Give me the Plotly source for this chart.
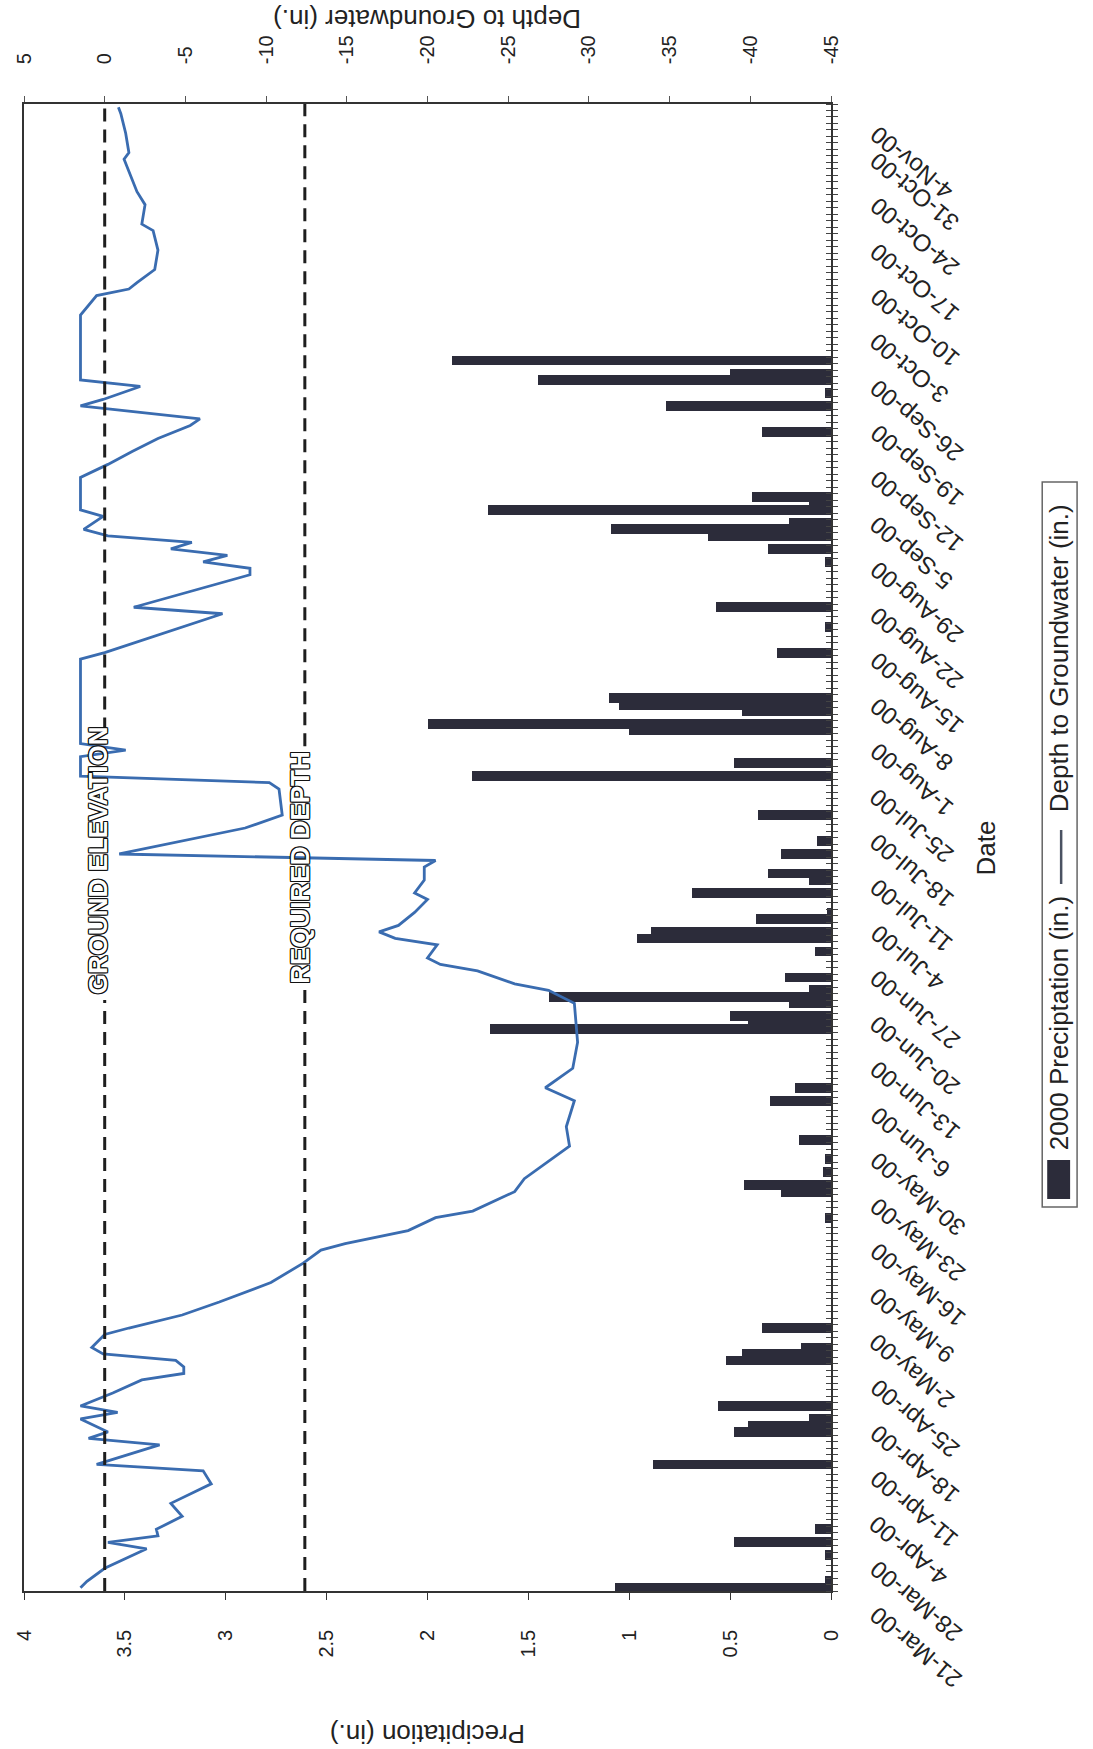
import pandas as pd
import plotly.graph_objects as go

START = pd.Timestamp("2000-03-21")
END = pd.Timestamp("2000-11-04")
DAY_MS = 86400000

# Daily precipitation (in.), day index counted from 21-Mar-2000
rain_day = [0, 1, 5, 7, 9, 19, 24, 25, 26, 28, 35, 36, 37, 40, 57, 61, 62, 64, 66, 69,
            75, 77, 86, 87, 88, 90, 91, 92, 94, 98, 100, 101, 103, 104, 107, 109, 110,
            113, 115, 119, 125, 127, 132, 133, 135, 136, 137, 144, 148, 151, 158, 160,
            162, 163, 164, 166, 167, 168, 178, 182, 184, 186, 187, 189]
rain_in = [1.07, 0.03, 0.03, 0.48, 0.08, 0.88, 0.48, 0.41, 0.11, 0.56, 0.52, 0.44, 0.15,
           0.34, 0.03, 0.25, 0.43, 0.04, 0.03, 0.16, 0.30, 0.18, 1.69, 0.41, 0.50, 0.21,
           1.40, 0.11, 0.23, 0.08, 0.96, 0.89, 0.37, 0.02, 0.69, 0.11, 0.31, 0.25, 0.07,
           0.36, 1.78, 0.48, 1.00, 2.00, 0.44, 1.05, 1.10, 0.27, 0.03, 0.57, 0.03, 0.31,
           0.61, 1.09, 0.21, 1.70, 0.11, 0.39, 0.34, 0.82, 0.03, 1.45, 0.50, 1.88]

# Depth to groundwater (in.), positive = above ground surface
gw_day = [0, 1, 3, 6, 7, 8, 9, 11, 13, 16, 18, 19, 22, 23, 24, 26, 27, 28, 30, 32, 33,
          34, 35, 36, 37, 39, 40, 42, 44, 47, 50, 52, 53, 55, 57, 58, 61, 63, 68, 71,
          75, 77, 80, 84, 90, 92, 93, 95, 96, 97, 99, 100, 101, 102, 104, 106, 107, 109,
          111, 112, 113, 117, 119, 123, 124, 125, 128, 129, 130, 143, 144, 150, 151,
          156, 157, 158, 159, 160, 161, 162, 163, 165, 166, 171, 173, 175, 177, 179,
          180, 182, 183, 185, 186, 196, 199, 200, 201, 203, 206, 209, 210, 213, 215,
          218, 220, 221, 224, 227, 228]
gw_depth = [1.5, 1.1, 0.0, -2.6, -0.2, -3.3, -3.2, -4.8, -4.1, -6.6, -6.1, 0.5, -3.4, 1.0,
            -0.2, 1.5, -0.8, 1.5, -0.5, -2.3, -4.9, -4.9, -4.4, 0.1, 0.8, 0.0, -1.5, -4.8,
            -7.1, -10.3, -12.3, -13.4, -14.9, -18.8, -20.5, -22.8, -25.4, -26.0, -28.8,
            -28.6, -29.1, -27.3, -29.0, -29.3, -29.1, -27.5, -25.4, -23.1, -20.8, -20.0,
            -20.6, -18.0, -17.0, -18.2, -19.2, -20.0, -19.2, -19.8, -19.8, -20.5, -0.9,
            -8.7, -11.0, -10.8, -10.2, 1.5, 1.5, -1.3, 1.5, 1.5, 0.0, -7.3, -1.8, -9.0,
            -9.0, -6.1, -7.6, -4.1, -5.4, -0.2, 1.3, 0.1, 1.5, 1.5, -0.2, -1.7, -3.3,
            -5.3, -5.9, 1.5, 0.1, -2.2, 1.5, 1.5, 0.5, -1.5, -2.0, -3.1, -3.3, -3.0,
            -2.3, -2.5, -2.0, -1.5, -1.2, -1.5, -1.3, -1.0, -0.85]

GROUND_ELEVATION = 0.0
REQUIRED_DEPTH = -12.4

precip_ticks = [0, 0.5, 1, 1.5, 2, 2.5, 3, 3.5, 4]
depth_ticks = [5, 0, -5, -10, -15, -20, -25, -30, -35, -40, -45]
date_labels = ["21-Mar-00", "28-Mar-00", "4-Apr-00", "11-Apr-00", "18-Apr-00", "25-Apr-00",
               "2-May-00", "9-May-00", "16-May-00", "23-May-00", "30-May-00", "6-Jun-00",
               "13-Jun-00", "20-Jun-00", "27-Jun-00", "4-Jul-00", "11-Jul-00", "18-Jul-00",
               "25-Jul-00", "1-Aug-00", "8-Aug-00", "15-Aug-00", "22-Aug-00", "29-Aug-00",
               "5-Sep-00", "12-Sep-00", "19-Sep-00", "26-Sep-00", "3-Oct-00", "10-Oct-00",
               "17-Oct-00", "24-Oct-00", "31-Oct-00", "4-Nov-00"]

BAR_COLOR = "#2c2c3a"
LINE_COLOR = "#3a6cb0"
TEXT_COLOR = "#222222"
FONT = "Liberation Sans"

W, H = 1093, 1749
ML, MR, MT, MB = 21, 262, 104, 158
PW, PH = W - ML - MR, H - MT - MB


def px(x):
    return (x - ML) / PW


def py(y):
    return (H - MB - y) / PH


def day(d):
    return START + pd.Timedelta(days=d)


rain_dates = [day(d) for d in rain_day]
gw_dates = [day(d) for d in gw_day]
y_range = [START - pd.Timedelta(hours=12), END + pd.Timedelta(hours=12)]

fig = go.Figure()

# earlier days drawn last so they sit on top of overlapping neighbours
fig.add_trace(go.Bar(
    x=rain_in[::-1], y=rain_dates[::-1], orientation="h",
    width=1.5 * DAY_MS, marker=dict(color=BAR_COLOR, line=dict(width=0)),
    xaxis="x", yaxis="y", showlegend=False, name="2000 Preciptation (in.)",
))
fig.add_trace(go.Scatter(
    x=gw_depth, y=gw_dates, mode="lines",
    line=dict(color=LINE_COLOR, width=2.8),
    xaxis="x2", yaxis="y", showlegend=False, name="Depth to Groundwater (in.)",
))
# carrier for the inner half of the daily tick marks
fig.add_trace(go.Scatter(x=[None], y=[None], xaxis="x", yaxis="y3",
                         showlegend=False, hoverinfo="skip"))

tick_font = dict(family=FONT, size=20, color=TEXT_COLOR)

fig.update_layout(
    width=W, height=H, autosize=False,
    margin=dict(l=ML, r=MR, t=MT, b=MB, pad=0),
    paper_bgcolor="white", plot_bgcolor="white",
    bargap=0, barmode="overlay",
    xaxis=dict(
        range=[4, 0], tickvals=precip_ticks, ticktext=[f"{v:g}" for v in precip_ticks],
        tickangle=-90, ticks="outside", ticklen=7, tickcolor="#333", tickwidth=1,
        showline=True, linecolor="#333", linewidth=1.5, showgrid=False, zeroline=False,
        tickfont=tick_font, ticklabelstandoff=22, anchor="y",
    ),
    xaxis2=dict(
        range=[5, -45], tickvals=depth_ticks, ticktext=[f"{v:g}" for v in depth_ticks],
        tickangle=-90, ticks="outside", ticklen=6, tickcolor="#555", tickwidth=1,
        showline=True, linecolor="#333", linewidth=1.5, showgrid=False, zeroline=False,
        tickfont=tick_font, ticklabelstandoff=28, overlaying="x", side="top", anchor="y",
    ),
    yaxis=dict(
        type="date", range=y_range, side="right", showticklabels=False,
        ticks="", showline=True, mirror=True, linecolor="#333", linewidth=1.5,
        showgrid=False, zeroline=False,
        minor=dict(ticks="outside", ticklen=5, tickcolor="#444", tickwidth=1,
                   dtick=DAY_MS, tick0=str(y_range[0]), showgrid=False),
    ),
    yaxis3=dict(
        type="date", range=y_range, side="right", overlaying="y", anchor="x",
        showticklabels=False, ticks="", showline=False, showgrid=False, zeroline=False,
        minor=dict(ticks="inside", ticklen=5, tickcolor="#444", tickwidth=1,
                   dtick=DAY_MS, tick0=str(y_range[0]), showgrid=False),
    ),
)

# reference lines, broken where their labels sit
dash = dict(color="#1e1e1e", width=3, dash="13px,8px")
for level, gap in [(GROUND_ELEVATION, (90.5, 132.0)), (REQUIRED_DEPTH, (92.4, 129.6))]:
    for y0, y1 in [(y_range[0], day(gap[0])), (day(gap[1]), y_range[1])]:
        fig.add_shape(type="line", xref="x2", yref="y", x0=level, x1=level,
                      y0=y0, y1=y1, line=dash, layer="above")

outline = ("1px 1px 0 #111, -1px -1px 0 #111, 1px -1px 0 #111, -1px 1px 0 #111, "
           "0 1px 0 #111, 0 -1px 0 #111, 1px 0 0 #111, -1px 0 0 #111")
for text, level, mid, shift in [("GROUND ELEVATION", GROUND_ELEVATION, 112, -6),
                                 ("REQUIRED DEPTH", REQUIRED_DEPTH, 111, -5)]:
    fig.add_annotation(text=f"<b>{text}</b>", x=level, y=day(mid), xref="x2", yref="y",
                       xanchor="center", yanchor="middle",
                       textangle=-90, showarrow=False, xshift=shift,
                       font=dict(family=FONT, size=26, color="white", shadow=outline))

# rotated date labels on the time axis
for lab in date_labels:
    d = pd.to_datetime(lab, format="%d-%b-%y")
    fig.add_annotation(text=lab, x=1, xref="paper", y=d, yref="y",
                       xanchor="left", yanchor="top", xshift=31, yshift=-11,
                       textangle=-140, showarrow=False,
                       font=dict(family=FONT, size=24, color=TEXT_COLOR))


def label(text, x, y, angle, size=26):
    fig.add_annotation(text=text, x=px(x), y=py(y), xref="paper", yref="paper",
                       xanchor="center", yanchor="middle", textangle=angle,
                       showarrow=False, font=dict(family=FONT, size=size, color=TEXT_COLOR))


# axis titles
label("Depth to Groundwater (in.)", 426, 19, 180)
label("Precipitation (in.)", 426, 1734, 180)
label("Date", 987, 848, -90)

# legend
fig.add_shape(type="rect", xref="paper", yref="paper", x0=px(1043), x1=px(1078),
              y0=py(1207), y1=py(482), line=dict(color="#666", width=1.5),
              fillcolor="rgba(0,0,0,0)")
fig.add_shape(type="rect", xref="paper", yref="paper", x0=px(1048), x1=px(1071),
              y0=py(1199), y1=py(1160), line=dict(width=0), fillcolor=BAR_COLOR)
label("2000 Preciptation (in.)", 1060, 1023, -90)
fig.add_shape(type="line", xref="paper", yref="paper", x0=px(1062), x1=px(1062),
              y0=py(884), y1=py(830), line=dict(color="#4a5262", width=2.5))
label("Depth to Groundwater (in.)", 1060, 658, -90)

fig.write_html("out.html")
